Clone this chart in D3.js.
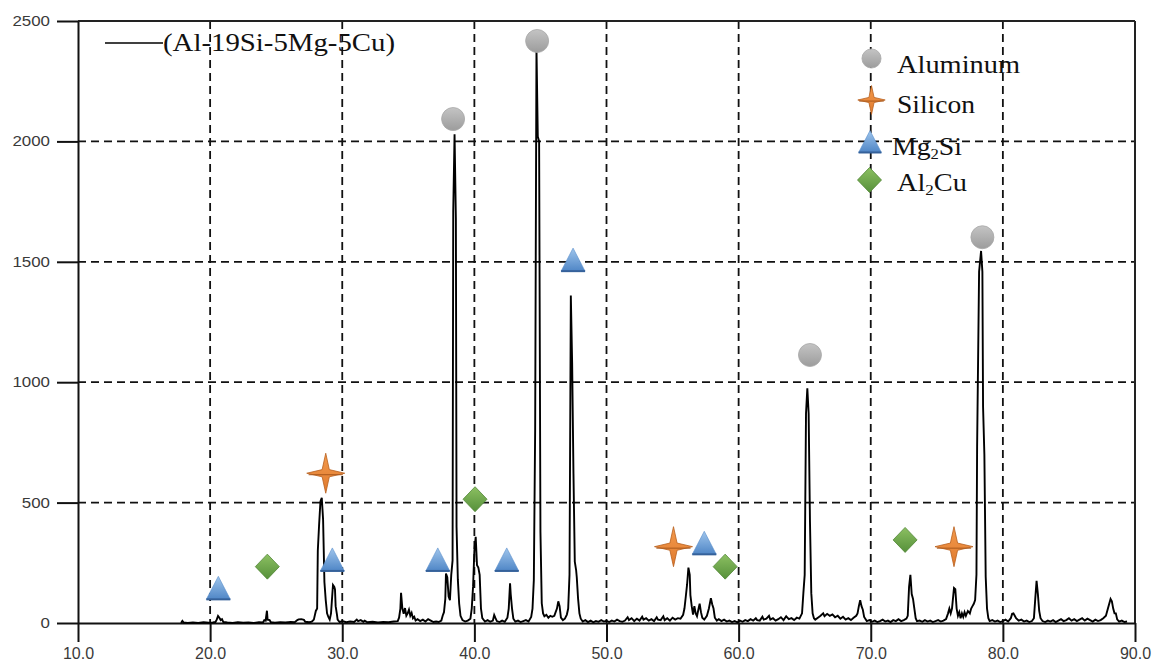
<!DOCTYPE html>
<html>
<head>
<meta charset="utf-8">
<script src="https://cdn.jsdelivr.net/npm/d3@7"></script>
<style>
  html, body { margin: 0; padding: 0; background: #fff; }
  svg { display: block; }
</style>
</head>
<body>
<div id="chart"></div>
<script>
// ---------- data ----------
const xTicks = [10, 20, 30, 40, 50, 60, 70, 80, 90];
const yTicks = [0, 500, 1000, 1500, 2000, 2500];
const xGrid = [20, 30, 40, 50, 60, 70, 80];
const yGrid = [500, 1000, 1500, 2000];
const seriesName = "(Al-19Si-5Mg-5Cu)";

// XRD pattern [2-theta, counts]
const pattern = [
[17.8,0],[17.9,9],[18.0,2],[18.3,0],[18.7,2],[19.1,0],[19.5,3],[19.9,1],[20.2,2],[20.4,4],[20.5,14],[20.6,29],[20.7,22],[20.8,12],[20.9,16],[21.0,4],[21.3,2],[21.7,0],[22.1,3],[22.5,1],[22.9,2],[23.3,0],[23.7,3],[24.0,2],[24.1,12],[24.2,10],[24.3,51],[24.35,14],[24.5,12],[24.6,3],[24.9,1],[25.3,3],[25.7,2],[26.1,4],[26.4,3],[26.6,12],[26.7,15],[26.9,16],[27.1,13],[27.2,5],[27.5,3],[27.7,6],[27.85,14],[28.0,50],[28.1,60],[28.15,300],[28.25,410],[28.35,505],[28.45,520],[28.55,430],[28.6,300],[28.65,170],[28.75,95],[28.85,40],[28.95,25],[29.05,14],[29.15,40],[29.25,120],[29.3,158],[29.4,150],[29.45,140],[29.5,70],[29.6,35],[29.65,14],[29.8,4],[30.0,8],[30.3,3],[30.6,6],[30.9,4],[31.1,14],[31.2,8],[31.4,12],[31.6,5],[31.7,10],[31.9,3],[32.3,5],[32.7,2],[33.1,4],[33.5,3],[33.9,6],[34.2,8],[34.3,22],[34.4,60],[34.45,125],[34.55,60],[34.65,38],[34.75,62],[34.85,30],[34.95,40],[35.05,55],[35.15,30],[35.25,42],[35.35,20],[35.45,26],[35.55,10],[35.7,16],[35.9,8],[36.1,14],[36.3,6],[36.5,16],[36.7,10],[36.9,4],[37.1,6],[37.3,4],[37.5,10],[37.6,30],[37.7,45],[37.8,100],[37.85,205],[37.95,190],[38.05,110],[38.15,95],[38.25,200],[38.35,260],[38.4,1710],[38.5,2030],[38.6,1680],[38.65,400],[38.75,180],[38.85,80],[38.95,30],[39.1,12],[39.3,6],[39.5,10],[39.7,18],[39.8,60],[39.9,150],[40.0,300],[40.1,358],[40.2,240],[40.3,230],[40.4,200],[40.5,60],[40.6,20],[40.8,6],[41.0,12],[41.2,5],[41.4,10],[41.5,33],[41.6,20],[41.7,8],[41.9,4],[42.1,10],[42.3,5],[42.5,22],[42.6,60],[42.7,165],[42.75,120],[42.85,60],[42.95,18],[43.1,6],[43.3,10],[43.5,4],[43.7,8],[43.9,12],[44.1,6],[44.3,25],[44.4,60],[44.5,178],[44.6,800],[44.7,2390],[44.8,2020],[44.9,2000],[45.0,380],[45.1,82],[45.2,40],[45.3,28],[45.45,34],[45.6,22],[45.75,30],[45.9,26],[46.05,30],[46.15,45],[46.25,60],[46.35,90],[46.45,70],[46.55,22],[46.7,12],[46.85,18],[47.0,35],[47.1,60],[47.2,200],[47.3,1360],[47.4,1080],[47.5,620],[47.6,255],[47.7,220],[47.75,190],[47.85,100],[47.95,40],[48.05,18],[48.2,6],[48.4,12],[48.6,4],[48.8,10],[49.0,3],[49.2,8],[49.4,5],[49.6,12],[49.8,6],[50.0,9],[50.2,4],[50.4,10],[50.6,6],[50.8,14],[51.0,8],[51.2,5],[51.4,10],[51.6,24],[51.7,12],[51.9,20],[52.1,8],[52.3,18],[52.5,10],[52.7,26],[52.8,14],[53.0,20],[53.2,10],[53.4,16],[53.6,8],[53.8,24],[53.9,14],[54.1,12],[54.3,28],[54.4,12],[54.6,20],[54.8,10],[55.0,22],[55.2,14],[55.4,20],[55.6,18],[55.8,34],[55.9,60],[56.0,109],[56.1,160],[56.2,230],[56.3,200],[56.35,116],[56.45,70],[56.55,35],[56.65,70],[56.75,40],[56.85,28],[56.95,55],[57.05,80],[57.15,45],[57.25,22],[57.4,14],[57.6,30],[57.75,60],[57.9,103],[58.0,78],[58.1,60],[58.2,22],[58.35,10],[58.5,16],[58.7,8],[58.9,14],[59.1,6],[59.3,10],[59.5,4],[59.7,8],[59.9,3],[60.1,10],[60.3,5],[60.5,12],[60.7,8],[60.9,16],[61.1,10],[61.3,20],[61.4,12],[61.6,10],[61.8,26],[61.9,14],[62.1,18],[62.3,30],[62.4,14],[62.6,20],[62.8,10],[63.0,16],[63.2,24],[63.4,12],[63.6,28],[63.8,16],[64.0,20],[64.2,12],[64.4,22],[64.6,18],[64.8,40],[64.9,124],[65.0,200],[65.1,870],[65.2,975],[65.3,870],[65.4,421],[65.5,124],[65.6,40],[65.7,20],[65.8,14],[66.0,22],[66.2,30],[66.4,40],[66.5,28],[66.7,38],[66.9,30],[67.1,36],[67.3,24],[67.5,30],[67.7,18],[67.9,26],[68.1,14],[68.3,20],[68.5,12],[68.7,22],[68.9,30],[69.0,40],[69.1,70],[69.2,95],[69.3,70],[69.4,55],[69.5,25],[69.7,8],[69.9,12],[70.1,5],[70.3,10],[70.5,4],[70.7,8],[70.9,14],[71.1,6],[71.3,10],[71.5,4],[71.7,12],[71.9,8],[72.1,16],[72.3,8],[72.5,12],[72.7,18],[72.8,30],[72.9,150],[73.0,200],[73.1,120],[73.2,100],[73.3,60],[73.4,20],[73.5,8],[73.7,10],[73.9,5],[74.1,12],[74.3,6],[74.5,10],[74.7,4],[74.9,8],[75.1,12],[75.3,6],[75.5,10],[75.7,16],[75.85,40],[75.95,60],[76.05,40],[76.15,60],[76.3,145],[76.4,140],[76.5,60],[76.6,30],[76.7,45],[76.8,20],[76.9,40],[77.0,25],[77.1,45],[77.2,30],[77.35,50],[77.5,40],[77.6,60],[77.7,70],[77.8,80],[77.9,95],[78.0,200],[78.05,732],[78.2,1459],[78.35,1545],[78.45,1459],[78.5,898],[78.6,700],[78.7,192],[78.8,60],[78.9,20],[79.0,8],[79.2,12],[79.4,6],[79.6,10],[79.8,4],[80.0,8],[80.2,14],[80.4,6],[80.6,20],[80.7,38],[80.8,40],[80.9,30],[81.0,20],[81.2,10],[81.4,14],[81.6,6],[81.8,10],[82.0,4],[82.2,8],[82.35,20],[82.45,100],[82.55,175],[82.65,120],[82.75,50],[82.85,20],[83.0,8],[83.2,4],[83.4,10],[83.6,6],[83.8,12],[84.0,4],[84.2,10],[84.4,16],[84.6,8],[84.8,12],[85.0,20],[85.2,10],[85.4,16],[85.6,8],[85.8,14],[86.0,20],[86.2,10],[86.4,18],[86.6,12],[86.8,6],[87.0,14],[87.2,8],[87.4,12],[87.6,20],[87.8,30],[87.95,60],[88.05,80],[88.15,100],[88.25,90],[88.35,60],[88.45,40],[88.55,40],[88.65,15],[88.8,6],[89.0,10],[89.2,4],[89.4,6]
];

// phase markers [2-theta, counts]
const aluminum = [[38.39,2093],[44.75,2417],[65.4,1113],[78.45,1602]];
const silicon  = [[28.75,622],[55.07,317],[76.3,317]];
const mg2si    = [[20.62,144],[29.25,262],[37.23,262],[42.45,262],[47.47,1507],[57.4,331]];
const al2cu    = [[24.33,234],[40.05,514],[58.98,234],[72.6,345]];

// ---------- drawing ----------
const W = 1157, H = 664;
const svg = d3.select("#chart").append("svg").attr("width", W).attr("height", H);

const defs = svg.append("defs");
function grad(id, c1, c2) {
  const g = defs.append("linearGradient").attr("id", id).attr("x1", 0).attr("y1", 0).attr("x2", 0).attr("y2", 1);
  g.append("stop").attr("offset", "0%").attr("stop-color", c1);
  g.append("stop").attr("offset", "100%").attr("stop-color", c2);
}
grad("gGray", "#c4c4c4", "#9c9c9c");
grad("gBlue", "#9fc5ec", "#4f86c6");
grad("gGreen", "#8cc062", "#56903a");
grad("gOrange", "#f39a4c", "#e07a2e");

const x = d3.scaleLinear().domain([10, 90]).range([78, 1135]);
const y = d3.scaleLinear().domain([0, 2500]).range([623, 21]);

// grid
const grid = svg.append("g").attr("stroke", "#111").attr("stroke-width", 1.8).attr("stroke-dasharray", "8,5");
grid.selectAll("line.v").data(xGrid).join("line").attr("class", "v")
  .attr("x1", d => x(d)).attr("x2", d => x(d)).attr("y1", y(2500)).attr("y2", y(0));
grid.selectAll("line.h").data(yGrid).join("line").attr("class", "h")
  .attr("x1", x(10)).attr("x2", x(90)).attr("y1", d => y(d)).attr("y2", d => y(d));

// frame top/right
svg.append("line").attr("x1", x(10)).attr("x2", x(90)).attr("y1", y(2500)).attr("y2", y(2500))
  .attr("stroke", "#222").attr("stroke-width", 2);
svg.append("line").attr("x1", x(90)).attr("x2", x(90)).attr("y1", y(2500)).attr("y2", y(0))
  .attr("stroke", "#222").attr("stroke-width", 2);

// axes
const gx = svg.append("g").attr("transform", `translate(0,${y(0)})`)
  .call(d3.axisBottom(x).tickValues(xTicks).tickSize(19).tickSizeOuter(0).tickPadding(6).tickFormat(d3.format(".1f")));
const gy = svg.append("g").attr("transform", `translate(${x(10)},0)`)
  .call(d3.axisLeft(y).tickValues(yTicks).tickSize(21).tickSizeOuter(0).tickPadding(7).tickFormat(d3.format("d")));
[gx, gy].forEach(g => {
  g.select(".domain").attr("stroke", "#111").attr("stroke-width", 2);
  g.selectAll(".tick line").attr("stroke", "#111").attr("stroke-width", 2);
  g.selectAll(".tick text").attr("fill", "#3a3a3a").attr("font-family", "'Liberation Sans', Arial, sans-serif");
});
gx.selectAll(".tick text").attr("font-size", 16);
gy.selectAll(".tick text").attr("font-size", 14)
  .attr("textLength", d => String(d).length * 9.4).attr("lengthAdjust", "spacingAndGlyphs");

// pattern line
const line = d3.line().x(d => x(d[0])).y(d => y(d[1]));
svg.append("path").datum(pattern).attr("d", line)
  .attr("fill", "none").attr("stroke", "#000").attr("stroke-width", 1.9).attr("stroke-linejoin", "miter");

// markers
function marker(g, type, cx, cy, s) {
  s = s || 1;
  if (type === "circle") {
    g.append("circle").attr("cx", cx).attr("cy", cy).attr("r", 11.5 * s)
      .attr("fill", "url(#gGray)").attr("stroke", "#a8a8a8").attr("stroke-width", 0.8);
  } else if (type === "star") {
    const h = 19 * s, v = 20 * s, w = 3.6 * s;
    const p = `M${cx},${cy - v}L${cx + w},${cy - w}L${cx + h},${cy}L${cx + w},${cy + w}L${cx},${cy + v}L${cx - w},${cy + w}L${cx - h},${cy}L${cx - w},${cy - w}Z`;
    g.append("path").attr("d", p).attr("fill", "url(#gOrange)").attr("stroke", "#b8601e").attr("stroke-width", 0.8);
    g.append("line").attr("x1", cx - h * 0.9).attr("x2", cx + h * 0.9).attr("y1", cy + 1.5 * s).attr("y2", cy + 1.5 * s)
      .attr("stroke", "#a9581c").attr("stroke-width", 1);
  } else if (type === "triangle") {
    const a = 12 * s;
    g.append("path").attr("d", `M${cx},${cy - a}L${cx + a},${cy + a * 0.92}L${cx - a},${cy + a * 0.92}Z`)
      .attr("fill", "url(#gBlue)").attr("stroke", "#5b8fcb").attr("stroke-width", 0.6);
    g.append("line").attr("x1", cx - a).attr("x2", cx + a).attr("y1", cy + a * 0.92).attr("y2", cy + a * 0.92)
      .attr("stroke", "#35619a").attr("stroke-width", 2);
  } else if (type === "diamond") {
    const a = 12 * s, b = 12.5 * s;
    g.append("path").attr("d", `M${cx},${cy - b}L${cx + a},${cy}L${cx},${cy + b}L${cx - a},${cy}Z`)
      .attr("fill", "url(#gGreen)").attr("stroke", "#4f8533").attr("stroke-width", 0.8);
  }
}
const mk = svg.append("g");
const phases = [
  { type: "circle", data: aluminum },
  { type: "star", data: silicon },
  { type: "triangle", data: mg2si },
  { type: "diamond", data: al2cu }
];
phases.forEach(p => p.data.forEach(d => marker(mk, p.type, x(d[0]), y(d[1]), 1)));

// series legend (top-left)
const lg = svg.append("g");
lg.append("line").attr("x1", 105).attr("x2", 163).attr("y1", 43).attr("y2", 43).attr("stroke", "#000").attr("stroke-width", 1.5);
lg.append("text").attr("x", 163).attr("y", 51).text(seriesName)
  .attr("font-family", "'Liberation Serif', 'Times New Roman', serif").attr("font-size", 25).attr("fill", "#111")
  .attr("textLength", 232).attr("lengthAdjust", "spacingAndGlyphs");

// phase legend (top-right)
const pl = svg.append("g").attr("font-family", "'Liberation Serif', 'Times New Roman', serif").attr("fill", "#111");
const legendItems = [
  { type: "circle", parts: [["Aluminum", false]], mx: 871.5, my: 58.5, s: 0.83, tx: 897, ty: 72.5, tl: 123 },
  { type: "star", parts: [["Silicon", false]], mx: 871.5, my: 100, s: 0.72, tx: 897, ty: 112.5, tl: 78 },
  { type: "triangle", parts: [["Mg", false], ["2", true], ["Si", false]], mx: 870, my: 142, s: 0.95, tx: 892, ty: 155, tl: 70 },
  { type: "diamond", parts: [["Al", false], ["2", true], ["Cu", false]], mx: 869.5, my: 180, s: 1.0, tx: 897, ty: 190.5, tl: 70 }
];
legendItems.forEach(it => {
  marker(pl, it.type, it.mx, it.my, it.s);
  const t = pl.append("text").attr("x", it.tx).attr("y", it.ty).attr("font-size", 25)
    .attr("textLength", it.tl).attr("lengthAdjust", "spacingAndGlyphs");
  let sub = false;
  it.parts.forEach(([s, isSub]) => {
    const ts = t.append("tspan").text(s);
    if (isSub) { ts.attr("font-size", 15).attr("dy", 4); sub = true; }
    else if (sub) { ts.attr("dy", -4); sub = false; }
  });
});
</script>
</body>
</html>
